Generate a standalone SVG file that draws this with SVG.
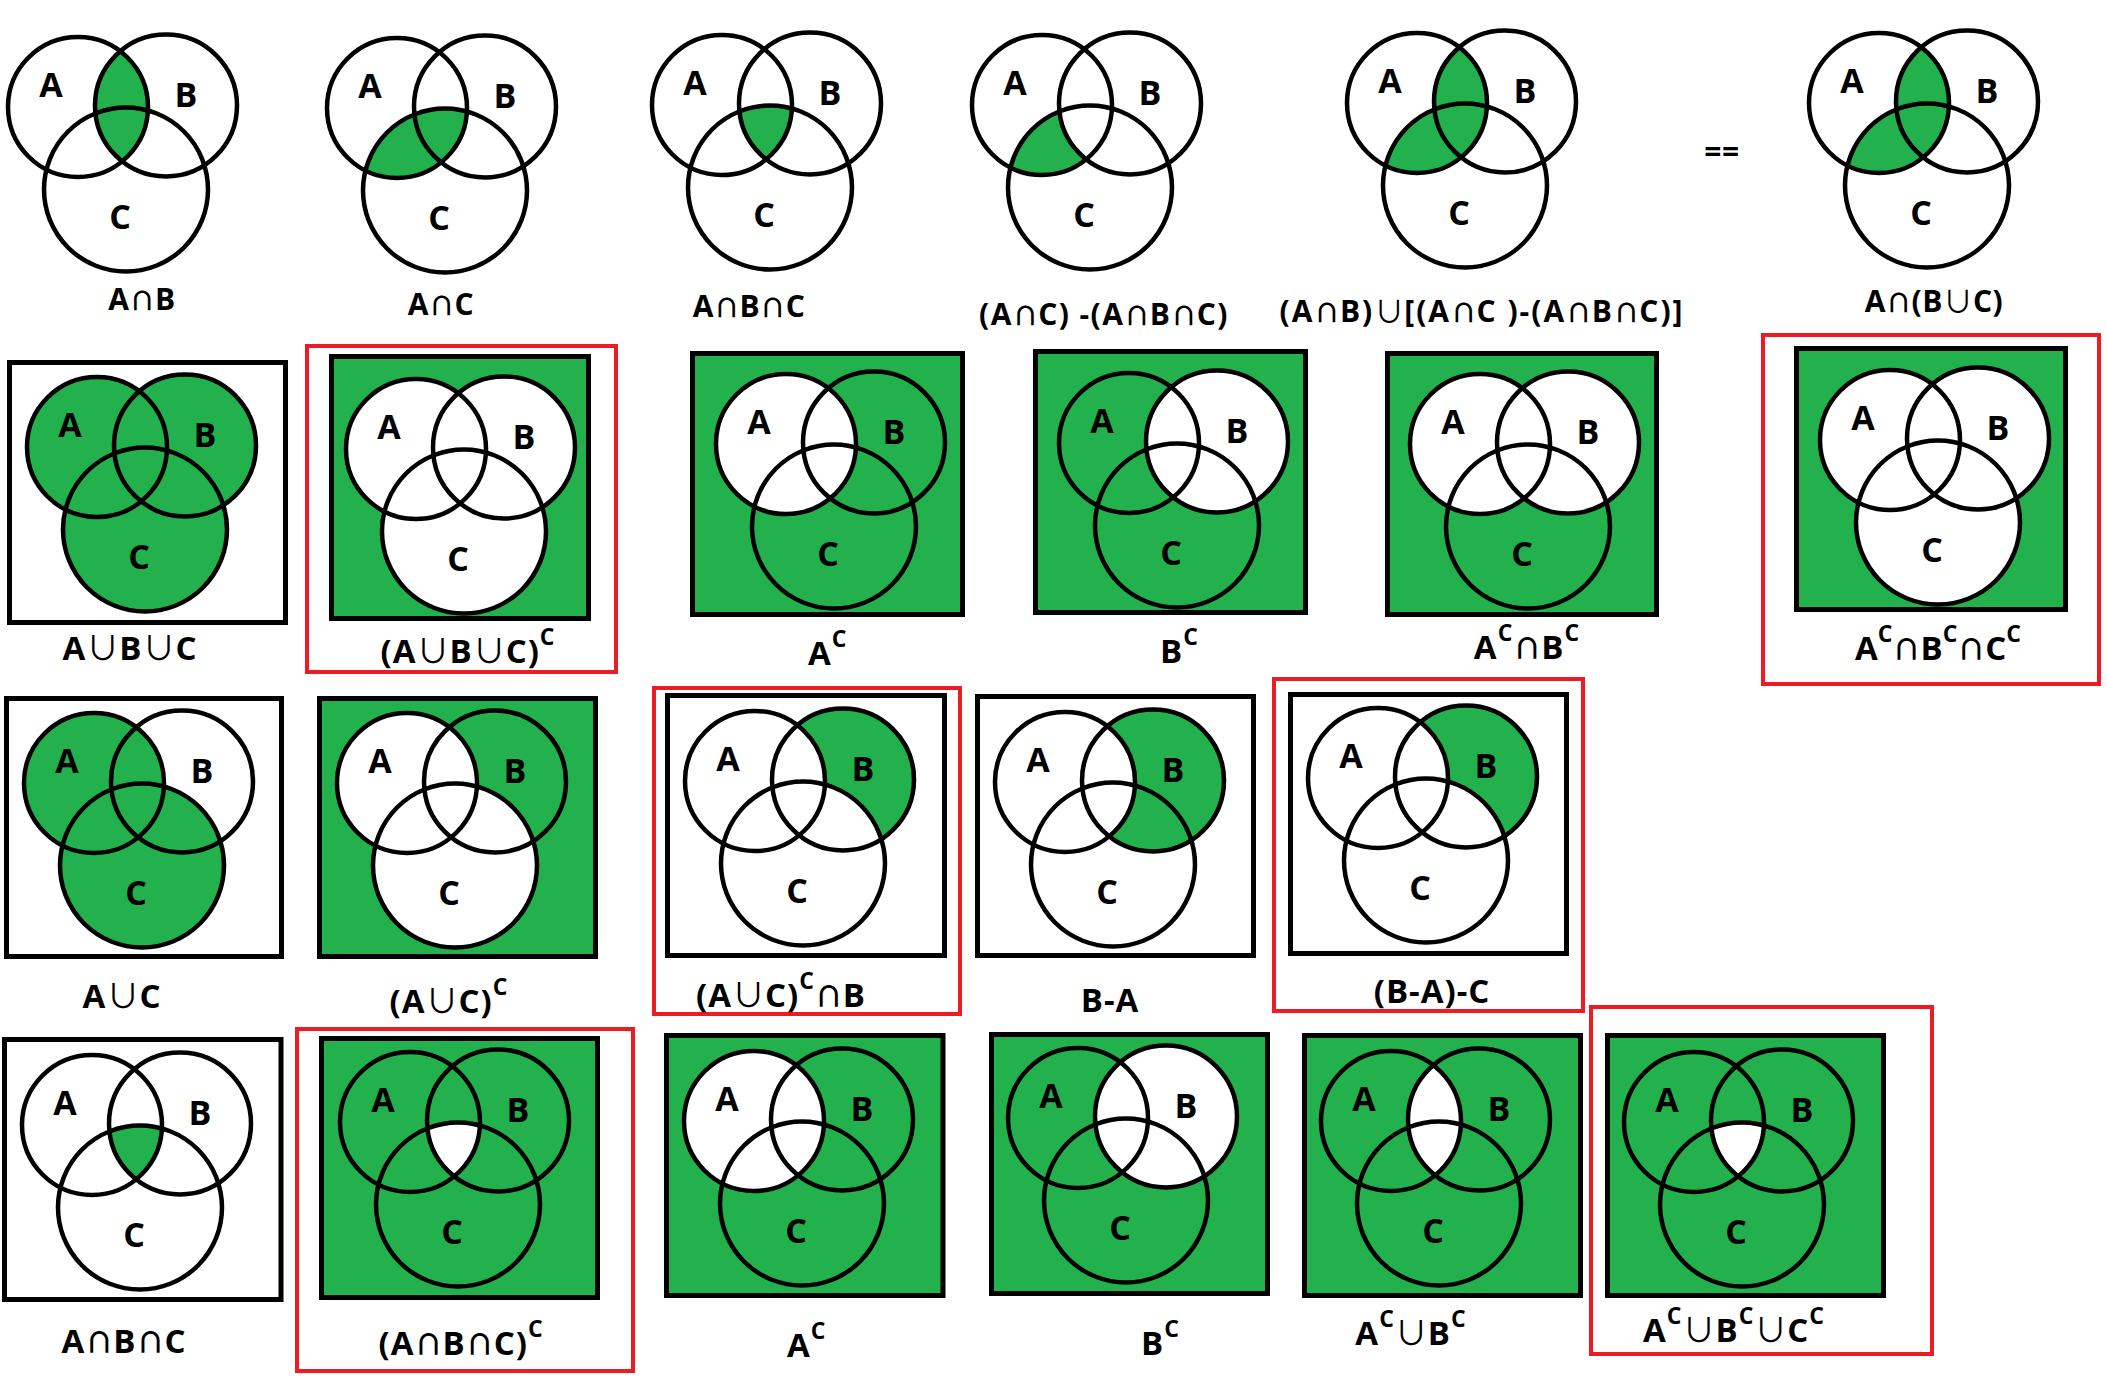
<svg xmlns="http://www.w3.org/2000/svg" width="2108" height="1392" viewBox="0 0 2108 1392">
<style>
.o{fill:none;stroke:#000;stroke-width:4.5}
.g{fill:#22b14c}
.w{fill:#fff}
.bx{stroke:#000;stroke-width:5}
.bw{fill:#fff}
.bg{fill:#22b14c}
.rb{fill:none;stroke:#ed1c24;stroke-width:4}
.lb{font-family:"Open Sans","DejaVu Sans",sans-serif;font-weight:bold;font-size:34px;text-anchor:middle;fill:#000}
.cap{font-family:"Open Sans","DejaVu Sans",sans-serif;font-weight:bold;font-size:33px;letter-spacing:1px;fill:#000}
.c1{font-size:30px;letter-spacing:0.5px}
.mid{text-anchor:middle}
.sup{font-size:23px}
.i{font-family:"Noto Sans CJK JP","DejaVu Sans",sans-serif;font-weight:bold;font-size:0.85em;letter-spacing:0}
.u{font-family:"Noto Sans CJK JP","DejaVu Sans",sans-serif;font-weight:normal;letter-spacing:0}
</style>
<defs>
<circle id="cA" cx="0" cy="0" r="70"/>
<circle id="cB" cx="88" cy="-1.5" r="71"/>
<circle id="cC" cx="48" cy="82.5" r="82"/>
<clipPath id="kB"><circle cx="88" cy="-1.5" r="71"/></clipPath>
<clipPath id="kC"><circle cx="48" cy="82.5" r="82"/></clipPath>
<g id="venn">
<circle class="o" cx="0" cy="0" r="70"/>
<circle class="o" cx="88" cy="-1.5" r="71"/>
<circle class="o" cx="48" cy="82.5" r="82"/>
<text class="lb" x="-27" y="-10">A</text>
<text class="lb" x="108" y="0">B</text>
<text class="lb" x="42" y="122">C</text>
</g>
</defs>
<rect width="2108" height="1392" fill="#fff"/>

<!-- Row 1 -->
<g id="r1-AnB">
<g transform="translate(78,107)"><use href="#cA" class="g" clip-path="url(#kB)"/><use href="#venn"/></g>
<text class="cap c1 mid" x="142" y="310">A<tspan class="i">∩</tspan>B</text>
</g>
<g id="r1-AnC">
<g transform="translate(397,108)"><use href="#cA" class="g" clip-path="url(#kC)"/><use href="#venn"/></g>
<text class="cap c1 mid" x="441" y="315">A<tspan class="i">∩</tspan>C</text>
</g>
<g id="r1-AnBnC">
<g transform="translate(722,105)"><g clip-path="url(#kC)"><use href="#cA" class="g" clip-path="url(#kB)"/></g><use href="#venn"/></g>
<text class="cap c1 mid" x="749" y="317">A<tspan class="i">∩</tspan>B<tspan class="i">∩</tspan>C</text>
</g>
<g id="r1-AnC-AnBnC">
<g transform="translate(1042,105)"><use href="#cA" class="g" clip-path="url(#kC)"/><use href="#cB" class="w"/><use href="#venn"/></g>
<text class="cap c1 mid" x="1104" y="325" style="letter-spacing:1.4px">(A<tspan class="i">∩</tspan>C) -(A<tspan class="i">∩</tspan>B<tspan class="i">∩</tspan>C)</text>
</g>
<g id="r1-union-expr">
<g transform="translate(1417,103)"><use href="#cA" class="g" clip-path="url(#kB)"/><use href="#cA" class="g" clip-path="url(#kC)"/><use href="#venn"/></g>
<text class="cap c1 mid" x="1482" y="322" style="letter-spacing:2px">(A<tspan class="i">∩</tspan>B)<tspan class="u">∪</tspan>[(A<tspan class="i">∩</tspan>C )-(A<tspan class="i">∩</tspan>B<tspan class="i">∩</tspan>C)]</text>
</g>
<g id="r1-equals">
<text class="cap c1 mid" x="1722" y="162" letter-spacing="4">==</text>
</g>
<g id="r1-An(BuC)">
<g transform="translate(1879,103)"><use href="#cA" class="g" clip-path="url(#kB)"/><use href="#cA" class="g" clip-path="url(#kC)"/><use href="#venn"/></g>
<text class="cap c1 mid" x="1934" y="312">A<tspan class="i">∩</tspan>(B<tspan class="u">∪</tspan>C)</text>
</g>

<!-- Row 2 -->
<g id="r2-AuBuC">
<rect class="bx bw" x="9.5" y="362.5" width="276" height="260"/>
<g transform="translate(97,447)"><use href="#cA" class="g"/><use href="#cB" class="g"/><use href="#cC" class="g"/><use href="#venn"/></g>
<text class="cap mid" x="130" y="660">A<tspan class="u">∪</tspan>B<tspan class="u">∪</tspan>C</text>
</g>
<g id="r2-(AuBuC)c">
<rect class="rb" x="307" y="346" width="309" height="326"/>
<rect class="bx bg" x="331.5" y="356.5" width="257" height="262"/>
<g transform="translate(416,449)"><use href="#cA" class="w"/><use href="#cB" class="w"/><use href="#cC" class="w"/><use href="#venn"/></g>
<text class="cap mid" x="468" y="663">(A<tspan class="u">∪</tspan>B<tspan class="u">∪</tspan>C)<tspan class="sup" dy="-18">C</tspan></text>
</g>
<g id="r2-Ac">
<rect class="bx bg" x="692.5" y="353.5" width="270" height="261"/>
<g transform="translate(786,444)"><use href="#cA" class="w"/><use href="#venn"/></g>
<text class="cap" x="808" y="665">A<tspan class="sup" dy="-18">C</tspan></text>
</g>
<g id="r2-Bc">
<rect class="bx bg" x="1035.5" y="351.5" width="270" height="261"/>
<g transform="translate(1129,443)"><use href="#cB" class="w"/><use href="#venn"/></g>
<text class="cap" x="1160" y="663">B<tspan class="sup" dy="-18">C</tspan></text>
</g>
<g id="r2-AcnBc">
<rect class="bx bg" x="1387.5" y="353.5" width="269" height="261"/>
<g transform="translate(1480,444)"><use href="#cA" class="w"/><use href="#cB" class="w"/><use href="#venn"/></g>
<text class="cap mid" x="1527" y="659">A<tspan class="sup" dy="-18">C</tspan><tspan dy="18"><tspan class="i">∩</tspan>B</tspan><tspan class="sup" dy="-18">C</tspan></text>
</g>
<g id="r2-AcnBcnCc">
<rect class="rb" x="1763" y="335" width="336" height="349"/>
<rect class="bx bg" x="1796.5" y="348.5" width="269" height="261"/>
<g transform="translate(1890,440)"><use href="#cA" class="w"/><use href="#cB" class="w"/><use href="#cC" class="w"/><use href="#venn"/></g>
<text class="cap mid" x="1938" y="660" style="letter-spacing:0">A<tspan class="sup" dy="-18">C</tspan><tspan dy="18"><tspan class="i">∩</tspan>B</tspan><tspan class="sup" dy="-18">C</tspan><tspan dy="18"><tspan class="i">∩</tspan>C</tspan><tspan class="sup" dy="-18">C</tspan></text>
</g>

<!-- Row 3 -->
<g id="r3-AuC">
<rect class="bx bw" x="6.5" y="698.5" width="275" height="258"/>
<g transform="translate(94,783)"><use href="#cA" class="g"/><use href="#cC" class="g"/><use href="#venn"/></g>
<text class="cap mid" x="122" y="1008">A<tspan class="u">∪</tspan>C</text>
</g>
<g id="r3-(AuC)c">
<rect class="bx bg" x="319.5" y="698.5" width="276" height="258"/>
<g transform="translate(407,783)"><use href="#cA" class="w"/><use href="#cC" class="w"/><use href="#venn"/></g>
<text class="cap mid" x="449" y="1013">(A<tspan class="u">∪</tspan>C)<tspan class="sup" dy="-18">C</tspan></text>
</g>
<g id="r3-(AuC)cnB">
<rect class="rb" x="654" y="688" width="306" height="326"/>
<rect class="bx bw" x="667.5" y="695.5" width="277" height="260"/>
<g transform="translate(755,781)"><use href="#cB" class="g"/><use href="#cA" class="w"/><use href="#cC" class="w"/><use href="#venn"/></g>
<text class="cap mid" x="781" y="1007">(A<tspan class="u">∪</tspan>C)<tspan class="sup" dy="-18">C</tspan><tspan dy="18"><tspan class="i">∩</tspan>B</tspan></text>
</g>
<g id="r3-B-A">
<rect class="bx bw" x="977.5" y="696.5" width="276" height="259"/>
<g transform="translate(1065,782)"><use href="#cB" class="g"/><use href="#cA" class="w"/><use href="#venn"/></g>
<text class="cap mid" x="1110" y="1012">B-A</text>
</g>
<g id="r3-(B-A)-C">
<rect class="rb" x="1274" y="679" width="309" height="332"/>
<rect class="bx bw" x="1290.5" y="694.5" width="276" height="259"/>
<g transform="translate(1378,778)"><use href="#cB" class="g"/><use href="#cA" class="w"/><use href="#cC" class="w"/><use href="#venn"/></g>
<text class="cap mid" x="1432" y="1003">(B-A)-C</text>
</g>

<!-- Row 4 -->
<g id="r4-AnBnC">
<rect class="bx bw" x="4.5" y="1039.5" width="276.5" height="260"/>
<g transform="translate(92,1125)"><g clip-path="url(#kC)"><use href="#cA" class="g" clip-path="url(#kB)"/></g><use href="#venn"/></g>
<text class="cap mid" x="124" y="1353">A<tspan class="i">∩</tspan>B<tspan class="i">∩</tspan>C</text>
</g>
<g id="r4-(AnBnC)c">
<rect class="rb" x="297" y="1029" width="336" height="342"/>
<rect class="bx bg" x="321.5" y="1038.5" width="276" height="259"/>
<g transform="translate(410,1122)"><g clip-path="url(#kC)"><use href="#cA" class="w" clip-path="url(#kB)"/></g><use href="#venn"/></g>
<text class="cap mid" x="461" y="1355">(A<tspan class="i">∩</tspan>B<tspan class="i">∩</tspan>C)<tspan class="sup" dy="-18">C</tspan></text>
</g>
<g id="r4-Ac">
<rect class="bx bg" x="666.5" y="1035.5" width="276.5" height="260"/>
<g transform="translate(754,1121)"><use href="#cA" class="w"/><use href="#venn"/></g>
<text class="cap" x="787" y="1357">A<tspan class="sup" dy="-18">C</tspan></text>
</g>
<g id="r4-Bc">
<rect class="bx bg" x="991.5" y="1034.5" width="276" height="259"/>
<g transform="translate(1078,1118)"><use href="#cB" class="w"/><use href="#venn"/></g>
<text class="cap" x="1141" y="1355">B<tspan class="sup" dy="-18">C</tspan></text>
</g>
<g id="r4-AcuBc">
<rect class="bx bg" x="1304.5" y="1035.5" width="276" height="260"/>
<g transform="translate(1391,1121)"><use href="#cA" class="w" clip-path="url(#kB)"/><use href="#venn"/></g>
<text class="cap mid" x="1411" y="1345">A<tspan class="sup" dy="-18">C</tspan><tspan dy="18"><tspan class="u">∪</tspan>B</tspan><tspan class="sup" dy="-18">C</tspan></text>
</g>
<g id="r4-AcuBcuCc">
<rect class="rb" x="1591" y="1007" width="341" height="347"/>
<rect class="bx bg" x="1607.5" y="1035.5" width="276" height="260"/>
<g transform="translate(1694,1122)"><g clip-path="url(#kC)"><use href="#cA" class="w" clip-path="url(#kB)"/></g><use href="#venn"/></g>
<text class="cap mid" x="1734" y="1342">A<tspan class="sup" dy="-18">C</tspan><tspan dy="18"><tspan class="u">∪</tspan>B</tspan><tspan class="sup" dy="-18">C</tspan><tspan dy="18"><tspan class="u">∪</tspan>C</tspan><tspan class="sup" dy="-18">C</tspan></text>
</g>
</svg>
